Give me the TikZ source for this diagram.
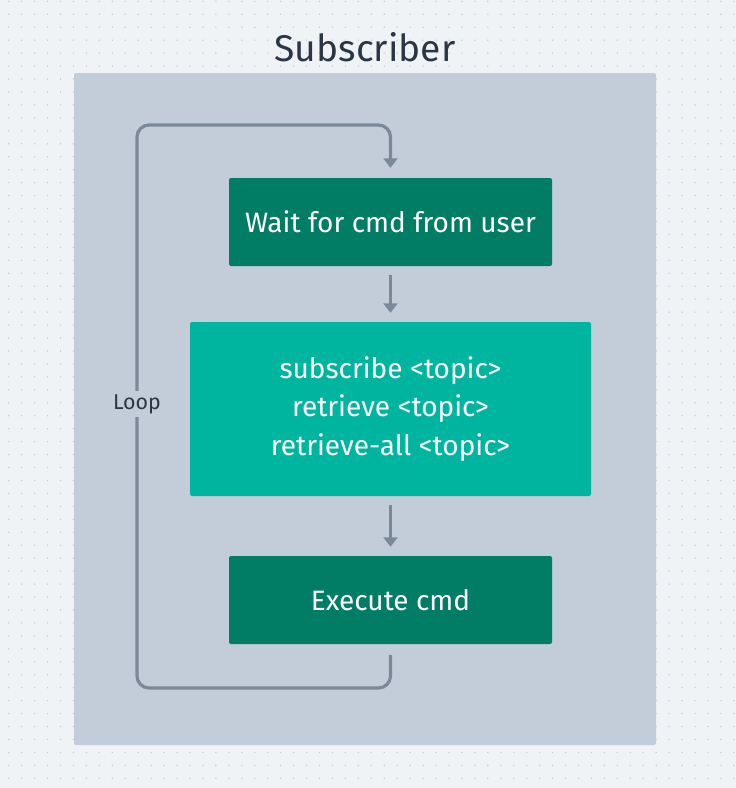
\documentclass[tikz,border=0pt]{standalone}
\usepackage{fontspec}
\setmainfont{Fira Sans}
\usetikzlibrary{arrows.meta}

\definecolor{canvas}{HTML}{F0F3F6}
\definecolor{dotgray}{HTML}{C6CDD8}
\definecolor{panel}{HTML}{C2CDD9}
\definecolor{cmdgreen}{HTML}{017D66}
\definecolor{optteal}{HTML}{00B5A0}
\definecolor{linkgray}{HTML}{7B8898}
\definecolor{inkdark}{HTML}{2B3645}

\tikzset{
  panelbox/.style={fill=panel, rounded corners=2pt, minimum width=582pt, minimum height=672pt},
  cmdbox/.style={fill=cmdgreen, text=white, rounded corners=2pt, minimum width=323pt,
    minimum height=88pt, font=\fontsize{28}{33}\selectfont},
  optbox/.style={fill=optteal, text=white, rounded corners=2pt, minimum width=401pt,
    minimum height=174pt, align=center, font=\fontsize{28}{38.5}\selectfont},
  flow/.style={draw=linkgray, line width=3.2pt, shorten <=9pt, shorten >=9pt,
    -{Triangle[width=14pt,length=9.5pt]}},
  looplabel/.style={fill=panel, text=inkdark, inner sep=3pt, font=\fontsize{21.4}{25}\selectfont}
}

\begin{document}
\begin{tikzpicture}[x=1pt,y=-1pt]
  % background with dot grid
  \fill[canvas] (0,0) rectangle (736,788);
  \useasboundingbox (0,0) rectangle (736,788);
  \foreach \i in {0,...,56}
    \foreach \j in {0,...,60}
      \fill[dotgray] (8.7+12.95*\i, 1.3+12.95*\j) circle (0.8pt);

  \node[text=inkdark, font=\fontsize{37.2}{42}\selectfont] (title) at (365,47) {Subscriber};
  \node[panelbox] (frame) at (365,409) {};

  \node[cmdbox] (wait) at (390.5,222) {Wait for cmd from user};
  \node[optbox] (opts) at (390.5,409) {subscribe <topic>\\retrieve <topic>\\retrieve-all <topic>};
  \node[cmdbox] (exec) at (390.5,600) {Execute cmd};

  \draw[flow] (wait.south) -- (opts.north);
  \draw[flow] (opts.south) -- (exec.north);

  % loop back to the top
  \coordinate (loopbot) at (137,688);
  \coordinate (looptop) at (137,125);
  \draw[flow, rounded corners=12pt, shorten <=11pt, shorten >=10pt]
    (exec.south) |- (loopbot) -- (looptop) -| (wait.north);
  \node[looplabel] (looptext) at (137,404) {Loop};
\end{tikzpicture}
\end{document}
